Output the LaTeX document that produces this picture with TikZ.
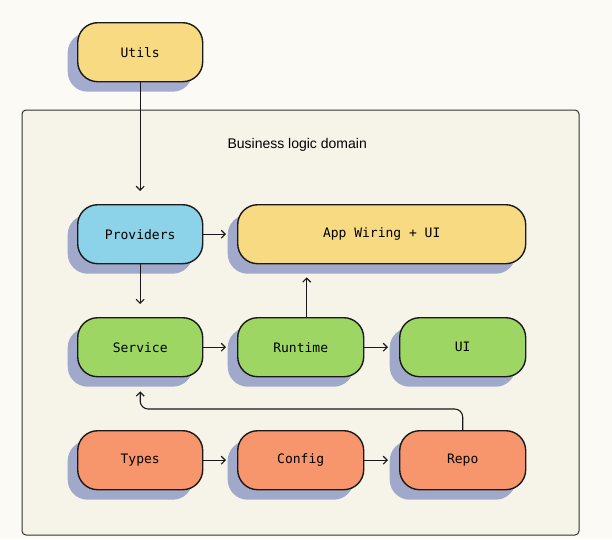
\documentclass[tikz,border=0pt]{standalone}
\usepackage{fontspec}
\setmainfont{Liberation Sans}
\setmonofont{DejaVu Sans Mono}
\usetikzlibrary{arrows.meta,shadows,calc}
\definecolor{bgc}{RGB}{251,250,244}
\definecolor{framefill}{RGB}{246,244,233}
\definecolor{framedraw}{RGB}{50,50,50}
\definecolor{shadowc}{RGB}{105,120,182}
\definecolor{yellowc}{RGB}{248,218,130}
\definecolor{bluec}{RGB}{140,210,232}
\definecolor{greenc}{RGB}{158,214,100}
\definecolor{orangec}{RGB}{247,150,108}
\begin{document}
\begin{tikzpicture}[x=1pt,y=-1pt,
  box/.style={draw=black!90, line width=1.4pt, rounded corners=20pt,
    minimum height=59pt, inner sep=0pt, anchor=north west,
    font=\ttfamily\fontsize{13}{15}\selectfont,
    drop shadow={shadow xshift=-10pt, shadow yshift=-10pt, fill=shadowc, opacity=0.6, draw=none}},
  arr/.style={draw=black!90, line width=1.1pt, -{Straight Barb[length=4pt,width=8pt]}},
  title/.style={font=\fontsize{14}{16}\selectfont, anchor=west}
]
\useasboundingbox (0,0) rectangle (612,539);
\fill[bgc] (0,0) rectangle (612,539);
\draw[fill=framefill, draw=framedraw, line width=1pt, rounded corners=4pt] (22,110) rectangle (579,535);
\node[title] (ttl) at (224,145) {Business logic domain};

\node[box, fill=yellowc, minimum width=125pt] (utils) at (77,22) {Utils};
\node[box, fill=bluec, minimum width=125pt] (prov) at (77,204) {Providers};
\node[box, fill=yellowc, minimum width=288pt] (app) at (237,204) {App Wiring + UI};
\node[box, fill=greenc, minimum width=125pt] (svc) at (77,317) {Service};
\node[box, fill=greenc, minimum width=126pt] (rt) at (237,317) {Runtime};
\node[box, fill=greenc, minimum width=126pt] (ui) at (399,317) {UI};
\node[box, fill=orangec, minimum width=125pt] (types) at (77,430) {Types};
\node[box, fill=orangec, minimum width=126pt] (cfg) at (237,430) {Config};
\node[box, fill=orangec, minimum width=126pt] (repo) at (399,430) {Repo};

\draw[arr, shorten >=13pt] (utils.south) -- (prov.north);
\draw[arr, shorten >=11pt] (prov.east) -- (app.west);
\draw[arr, shorten >=13pt] (prov.south) -- (svc.north);
\draw[arr, shorten >=11pt] (svc.east) -- (rt.west);
\draw[arr, shorten >=11pt] (rt.east) -- (ui.west);
\draw[arr, shorten >=13pt] ([xshift=6pt]rt.north) -- ([xshift=6pt]rt.north |- app.south);
\draw[arr, shorten >=11pt] (types.east) -- (cfg.west);
\draw[arr, shorten >=11pt] (cfg.east) -- (repo.west);
\draw[arr, rounded corners=8pt, shorten >=14pt] (repo.north) -- ++(0,-21) -| (svc.south);
\end{tikzpicture}
\end{document}
